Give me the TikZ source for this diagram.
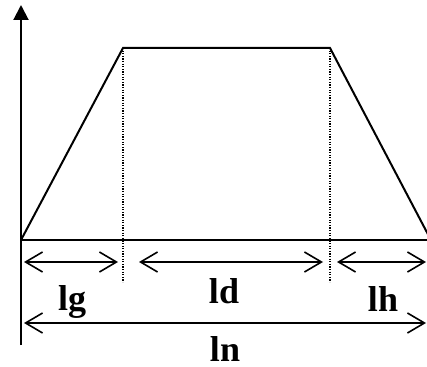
\documentclass[tikz,border=0pt]{standalone}
\usepackage{fontspec}
\setmainfont{Liberation Serif}
\usetikzlibrary{arrows.meta}

\begin{document}
\begin{tikzpicture}[x=1pt, y=-1pt,
  dim/.style={line width=1.6pt, {Straight Barb[length=17pt,width=20pt,line width=1.6pt]}-{Straight Barb[length=17pt,width=20pt,line width=1.6pt]}},
  guide/.style={line width=1.2pt, dash pattern=on 1.2pt off 1.4pt},
  lab/.style={anchor=base, inner sep=0pt, text depth=0pt, font=\fontsize{36}{36}\selectfont\bfseries}]
\useasboundingbox (0,0) rectangle (427,366);

% Axes
\coordinate (o) at (21,240);
\coordinate (top) at (21,5);
\coordinate (bot) at (21,345);
\coordinate (xend) at (431,240);
\draw[line width=2pt, -{Triangle[length=15pt,width=15pt]}] (bot) -- (top);
\draw[line width=2pt] (o) -- (xend);

% Trapezoid
\coordinate (a) at (123,48);
\coordinate (b) at (330,48);
\coordinate (c) at (432,242);
\draw[line width=2pt, line join=miter] (o) -- (a) -- (b) -- (c);

% Dotted guides
\coordinate (a0) at (123,282);
\coordinate (b0) at (330,282);
\draw[guide] (a) -- (a0);
\draw[guide] (b) -- (b0);

% Dimensions
\coordinate (g1) at (24,262);
\coordinate (g2) at (118,262);
\coordinate (d1) at (139,262);
\coordinate (d2) at (323,262);
\coordinate (h1) at (337,262);
\coordinate (h2) at (426,262);
\coordinate (n1) at (24,323);
\coordinate (n2) at (426,323);
\draw[dim] (g1) -- (g2);
\draw[dim] (d1) -- (d2);
\draw[dim] (h1) -- (h2);
\draw[dim] (n1) -- (n2);

\node[lab] (lg) at (72,310) {lg};
\node[lab] (ld) at (224,303) {ld};
\node[lab] (lh) at (383,311) {lh};
\node[lab] (ln) at (225,361) {ln};
\end{tikzpicture}
\end{document}
